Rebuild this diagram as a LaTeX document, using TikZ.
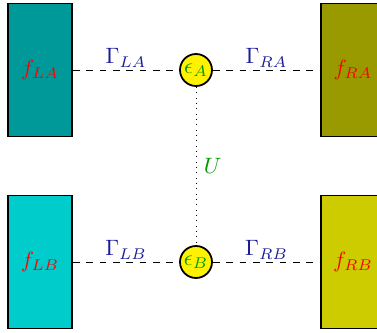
\documentclass[tikz,border=0pt]{standalone}
\usepackage{amsmath}
\usepackage{xcolor}
\usepackage{tikz}
\usetikzlibrary{positioning,calc}
\definecolor{leadLA}{HTML}{009999}
\definecolor{leadLB}{HTML}{00CCCC}
\definecolor{leadRA}{HTML}{999900}
\definecolor{leadRB}{HTML}{CCCC00}
\definecolor{dotgreen}{HTML}{009900}
\definecolor{ratenavy}{HTML}{1A1A99}
\tikzset{
  lead/.style={draw, thick, rectangle, minimum width=28.8pt, minimum height=59.9pt, inner sep=0pt},
  dot/.style={draw, thick, circle, fill=yellow, text=dotgreen, minimum size=14.4pt, inner sep=0.3pt},
  tun/.style={dashed},
  cpl/.style={dotted},
  lbl/.style={midway, above, inner sep=1pt, text=ratenavy}
}

\begin{document}
\begin{tikzpicture}[x=0.45pt, y=0.45pt]
\useasboundingbox (0,0) rectangle (377,333);
% leads
\node[lead, fill=leadLA] (la) at (40,263) {\color{red}$f_{LA}$};
\node[lead, fill=leadLB] (lb) at (40,71) {\color{red}$f_{LB}$};
\node[lead, fill=leadRA] (ra) at (353,263) {\color{red}$f_{RA}$};
\node[lead, fill=leadRB] (rb) at (353,71) {\color{red}$f_{RB}$};
% dots
\node[dot] (ea) at (196,263) {$\epsilon_A$};
\node[dot] (eb) at (196,71) {$\epsilon_B$};
% tunnelling
\draw[tun] (la) -- node[lbl]{$\Gamma_{LA}$} (ea);
\draw[tun] (ea) -- node[lbl]{$\Gamma_{RA}$} (ra);
\draw[tun] (lb) -- node[lbl]{$\Gamma_{LB}$} (eb);
\draw[tun] (eb) -- node[lbl]{$\Gamma_{RB}$} (rb);
% interaction
\draw[cpl] (ea) -- node[right, text=dotgreen]{$U$} (eb);
\end{tikzpicture}
\end{document}
